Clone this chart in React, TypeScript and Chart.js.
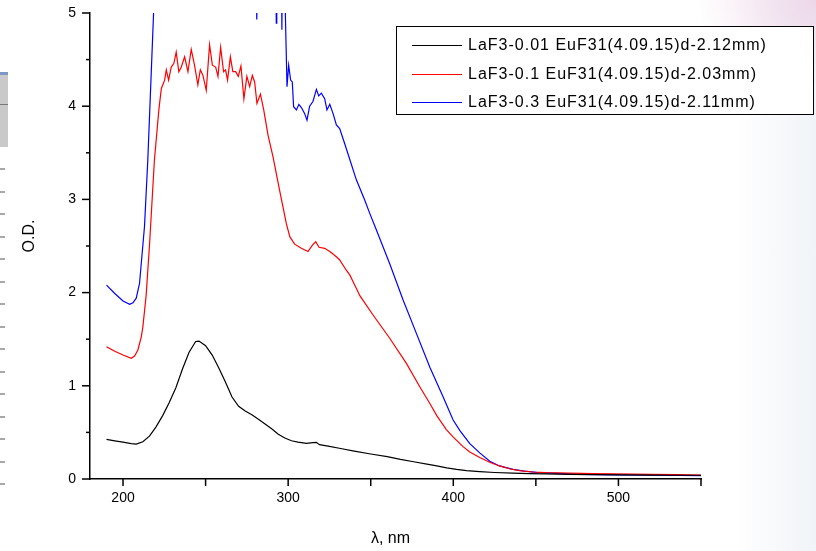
import { useEffect, useRef } from "react";
import { Chart, registerables } from "chart.js";

Chart.register(...registerables);

const seriesLabels = [
  "LaF3-0.01 EuF31(4.09.15)d-2.12mm)",
  "LaF3-0.1 EuF31(4.09.15)d-2.03mm)",
  "LaF3-0.3 EuF31(4.09.15)d-2.11mm)",
];
const seriesColors = ["#000000", "#ff0000", "#0000ff"];

const blackX = [190, 195, 200, 205, 208, 212, 216, 220, 224, 228, 232, 236, 240, 244, 246, 250, 254, 258, 262, 266, 270, 274, 278, 282, 286, 290, 294, 298, 302, 306, 311, 315, 317, 319, 325, 331, 340, 350, 360, 368, 376, 384, 390, 396, 402, 408, 416, 425, 436, 446, 456, 470, 485, 500, 520, 535, 550];
const blackY = [0.426, 0.41, 0.395, 0.38, 0.375, 0.4, 0.46, 0.56, 0.68, 0.82, 0.98, 1.18, 1.36, 1.475, 1.48, 1.43, 1.33, 1.19, 1.04, 0.88, 0.78, 0.73, 0.69, 0.64, 0.59, 0.54, 0.48, 0.44, 0.41, 0.395, 0.383, 0.39, 0.394, 0.368, 0.35, 0.33, 0.3, 0.268, 0.24, 0.21, 0.185, 0.16, 0.14, 0.12, 0.103, 0.09, 0.08, 0.07, 0.062, 0.058, 0.054, 0.05, 0.047, 0.045, 0.042, 0.04, 0.04];

const redX = [190, 195, 200, 205, 207, 209, 211, 212, 213, 214, 216, 219, 221.7, 223.2, 225.2, 226.2, 227.6, 229.2, 230.8, 232.2, 233.8, 235.3, 237.3, 239.3, 241.3, 243.3, 245.3, 246.8, 248.4, 250.4, 252.4, 254.1, 256.1, 257.5, 259.1, 260.9, 262.1, 263.3, 265, 266.5, 268.2, 269.8, 271.4, 273.2, 275, 276.7, 278.3, 279.7, 281.1, 283.2, 285.2, 287.8, 290.8, 294.8, 298.9, 301, 303.9, 308, 312, 314.7, 316.7, 318.7, 322.1, 325.2, 329.2, 331.2, 335.2, 337.3, 341.7, 343.3, 351.4, 361.5, 371.6, 379.7, 385.8, 390, 395.8, 400, 405.9, 410, 416, 422, 428, 434, 440, 448, 456, 470, 485, 497, 520, 535, 550];
const redY = [1.42, 1.37, 1.33, 1.295, 1.32, 1.384, 1.52, 1.63, 1.8, 1.97, 2.5, 3.42, 3.96, 4.19, 4.28, 4.39, 4.28, 4.42, 4.46, 4.58, 4.37, 4.42, 4.53, 4.37, 4.61, 4.44, 4.23, 4.39, 4.33, 4.17, 4.66, 4.44, 4.42, 4.32, 4.63, 4.37, 4.39, 4.28, 4.53, 4.37, 4.37, 4.32, 4.43, 4.08, 4.32, 4.21, 4.33, 4.26, 4.03, 4.13, 3.96, 3.69, 3.46, 3.1, 2.74, 2.6, 2.52, 2.475, 2.44, 2.51, 2.546, 2.486, 2.475, 2.44, 2.385, 2.35, 2.24, 2.19, 2.03, 1.97, 1.76, 1.51, 1.24, 0.99, 0.81, 0.68, 0.53, 0.45, 0.347, 0.29, 0.23, 0.18, 0.14, 0.11, 0.089, 0.075, 0.068, 0.062, 0.057, 0.054, 0.05, 0.046, 0.043];

const blueX = [190, 195, 200, 204, 206, 208, 210, 213, 215, 217, 218.5, 220, 230, 250, 270, 280.5, 281, 281.5, 292.5, 292.8, 293.1, 295.9, 296.2, 296.5, 297.9, 299.3, 300.3, 301.5, 302.5, 303.3, 305, 306.5, 308.2, 310, 311.4, 313, 315, 317.1, 318.5, 320.1, 322.1, 323.5, 325.2, 327.2, 329.2, 331.2, 334.2, 336.2, 341.3, 346.4, 349.4, 353.5, 361.5, 369.6, 377.7, 385.8, 389.8, 393.8, 399.9, 404, 410, 416, 422.1, 428, 436.2, 443, 450.4, 460, 476.7, 500, 525, 550];
const blueY = [2.08, 1.99, 1.91, 1.874, 1.89, 1.94, 2.1, 2.71, 3.42, 4.32, 5.0, 5.6, 5.8, 5.9, 5.8, 5.6, 4.93, 5.6, 5.6, 4.89, 5.6, 5.6, 4.82, 5.6, 5.3, 4.21, 4.44, 4.28, 4.26, 3.995, 3.96, 4.02, 3.98, 3.92, 3.85, 4.0, 4.05, 4.18, 4.11, 4.14, 4.08, 3.96, 4.02, 3.92, 3.8, 3.76, 3.6, 3.49, 3.21, 2.99, 2.85, 2.67, 2.31, 1.92, 1.56, 1.2, 1.04, 0.883, 0.633, 0.52, 0.38, 0.28, 0.19, 0.14, 0.104, 0.085, 0.072, 0.062, 0.05, 0.044, 0.04, 0.036];

const xMin = 180;
const xMax = 550;
const yMin = 0;
const yMax = 5;
const xMajorTicks = [200, 300, 400, 500];
const xMinorTicks = [250, 350, 450, 550];
const yMajorTicks = [0, 1, 2, 3, 4, 5];
const yMinorTicks = [0.5, 1.5, 2.5, 3.5, 4.5];
const xTitle = "λ, nm";
const yTitle = "O.D.";

const FONT = '"Liberation Sans", Arial, sans-serif';

const toPoints = (xs: number[], ys: number[]) => xs.map((x, i) => ({ x, y: ys[i] }));

const decorPlugin = {
  id: "decor",
  afterDraw(chart: any) {
    const ctx: CanvasRenderingContext2D = chart.ctx;
    const xs = chart.scales.x;
    const ys = chart.scales.y;
    const area = chart.chartArea;
    ctx.save();
    ctx.strokeStyle = "#000";
    ctx.lineWidth = 1.5;
    [...xMajorTicks, ...xMinorTicks].forEach((v) => {
      const px = xs.getPixelForValue(v);
      ctx.beginPath();
      ctx.moveTo(px, area.bottom);
      ctx.lineTo(px, area.bottom + 7);
      ctx.stroke();
    });
    yMajorTicks.forEach((v) => {
      const py = ys.getPixelForValue(v);
      ctx.beginPath();
      ctx.moveTo(area.left - 8, py);
      ctx.lineTo(area.left, py);
      ctx.stroke();
    });
    yMinorTicks.forEach((v) => {
      const py = ys.getPixelForValue(v);
      ctx.beginPath();
      ctx.moveTo(area.left - 4, py);
      ctx.lineTo(area.left, py);
      ctx.stroke();
    });

    // axis titles
    ctx.fillStyle = "#000";
    ctx.font = `16px ${FONT}`;
    ctx.textAlign = "center";
    ctx.textBaseline = "middle";
    ctx.fillText(xTitle, (area.left + area.right) / 2 - 5, area.bottom + 60);
    ctx.save();
    ctx.translate(30, (area.top + area.bottom) / 2 - 10);
    ctx.rotate(-Math.PI / 2);
    ctx.fillText(yTitle, 0, 0);
    ctx.restore();

    // legend box
    const bx = 396, by = 26, bw = 417, bh = 88;
    ctx.fillStyle = "#fff";
    ctx.fillRect(bx, by, bw, bh);
    ctx.strokeStyle = "#000";
    ctx.lineWidth = 1;
    ctx.strokeRect(bx + 0.5, by + 0.5, bw, bh);
    const rows = [45, 74, 102];
    chart.data.datasets.forEach((ds: any, i: number) => {
      ctx.strokeStyle = ds.borderColor;
      ctx.lineWidth = 1.2;
      ctx.beginPath();
      ctx.moveTo(412, rows[i] + 0.5);
      ctx.lineTo(462, rows[i] + 0.5);
      ctx.stroke();
      ctx.fillStyle = "#000";
      ctx.font = `16px ${FONT}`;
      ctx.textAlign = "left";
      ctx.textBaseline = "middle";
      (ctx as any).letterSpacing = "1px";
      ctx.fillText(ds.label, 468, rows[i] + 1);
      (ctx as any).letterSpacing = "0px";
    });
    ctx.restore();
  },
};

export default function App() {
  const canvasRef = useRef<HTMLCanvasElement | null>(null);

  useEffect(() => {
    if (!canvasRef.current) return;
    const sets = [
      toPoints(blackX, blackY),
      toPoints(redX, redY),
      toPoints(blueX, blueY),
    ];
    const chart = new Chart(canvasRef.current, {
      type: "line",
      data: {
        datasets: sets.map((data, i) => ({
          label: seriesLabels[i],
          data,
          borderColor: seriesColors[i],
          borderWidth: 1.2,
          pointRadius: 0,
          tension: 0,
          fill: false,
        })),
      },
      options: {
        responsive: false,
        animation: false,
        parsing: false as any,
        layout: { padding: { top: 13, right: 115, bottom: 0, left: 0 } },
        plugins: {
          legend: { display: false },
          tooltip: { enabled: false },
          title: { display: false },
        },
        scales: {
          x: {
            type: "linear",
            min: xMin,
            max: xMax,
            grid: { display: false, drawTicks: false },
            border: { display: true, color: "#000", width: 1.5 },
            afterBuildTicks: (scale: any) => {
              scale.ticks = xMajorTicks.map((value) => ({ value }));
            },
            afterFit: (scale: any) => {
              scale.height = 72;
              scale.paddingLeft = 0;
              scale.paddingRight = 0;
            },
            ticks: {
              color: "#000",
              padding: 11,
              font: { family: FONT, size: 14 },
              maxRotation: 0,
              autoSkip: false,
              callback: (v: any) => String(v),
            },
          },
          y: {
            type: "linear",
            min: yMin,
            max: yMax,
            grid: { display: false, drawTicks: false },
            border: { display: true, color: "#000", width: 1.5 },
            afterBuildTicks: (scale: any) => {
              scale.ticks = yMajorTicks.map((value) => ({ value }));
            },
            afterFit: (scale: any) => {
              scale.width = 90;
              scale.paddingTop = 0;
              scale.paddingBottom = 0;
            },
            ticks: {
              color: "#000",
              padding: 14,
              font: { family: FONT, size: 14 },
              autoSkip: false,
              callback: (v: any) => String(v),
            },
          },
        },
      },
      plugins: [decorPlugin],
    });
    return () => chart.destroy();
  }, []);

  const dashTops = Array.from({ length: 15 }, (_, i) => 168 + i * 22.5);

  return (
    <div style={{ position: "absolute", left: 0, top: 0, width: 816, height: 551, background: "#fff", overflow: "hidden" }}>
      <div
        style={{
          position: "absolute",
          left: 700,
          top: 0,
          width: 116,
          height: 551,
          background:
            "radial-gradient(ellipse 120px 90px at 100% 0%, rgba(236,205,228,0.75), rgba(255,255,255,0) 100%), linear-gradient(to right, rgba(255,255,255,0) 30%, rgba(228,234,242,0.55) 100%)",
        }}
      />
      <div style={{ position: "absolute", left: 0, top: 72, width: 8, height: 3, background: "#7f97c4" }} />
      <div style={{ position: "absolute", left: 0, top: 75, width: 8, height: 72, background: "#c9c9c9" }} />
      <div style={{ position: "absolute", left: 0, top: 104, width: 8, height: 1, background: "#777" }} />
      {dashTops.map((t, i) => (
        <div key={i} style={{ position: "absolute", left: 0, top: t, width: 5, height: 2, background: "#a8a8a8" }} />
      ))}
      <canvas ref={canvasRef} width={816} height={551} style={{ position: "absolute", left: 0, top: 0 }} />
    </div>
  );
}
